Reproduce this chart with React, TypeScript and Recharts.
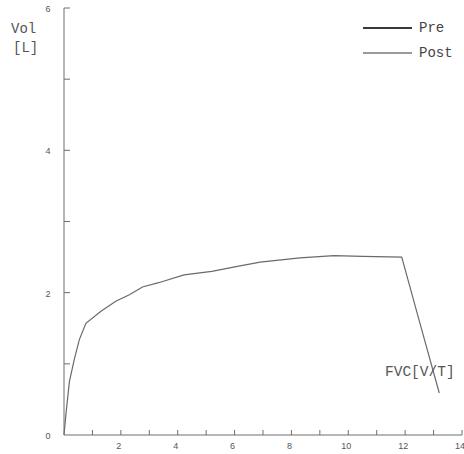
import { LineChart, Line, XAxis, YAxis } from 'recharts'

// FVC curve: volume [L] against FVC (x in L)
const fvcX = [0, 0.07, 0.19, 0.36, 0.54, 0.77, 1.3, 1.82, 2.3, 2.76, 3.33, 4.22, 5.2, 6.1, 6.9, 8.3, 9.5, 10.5, 11.88, 12.5, 13.2]
const preVol = [0, 0.3, 0.75, 1.06, 1.34, 1.57, 1.74, 1.88, 1.97, 2.08, 2.14, 2.25, 2.3, 2.37, 2.43, 2.49, 2.52, 2.51, 2.5, 1.6, 0.59]

const xTicks = [0, 1, 2, 3, 4, 5, 6, 7, 8, 9, 10, 11, 12, 13, 14]
const yTicks = [0, 1, 2, 3, 4, 5, 6]

const legendItems = [
  { name: 'Pre', color: '#3a3a3a' },
  { name: 'Post', color: '#9a9a9a' },
]

const data = fvcX.map((x, i) => ({ x, pre: preVol[i] }))

const FONT = '"Liberation Mono", "DejaVu Sans Mono", monospace'
const AXIS = '#6e6e6e'

function XTick(props: any) {
  const { x, y, payload } = props
  const v = payload.value
  return (
    <g>
      {v !== 0 && <line x1={x} y1={y} x2={x} y2={y - 5} stroke={AXIS} />}
      {v !== 0 && v % 2 === 0 && (
        <text x={x - 2} y={y + 14} textAnchor="middle" fontSize={9} fontFamily="'Liberation Sans', sans-serif" fill="#555">
          {v}
        </text>
      )}
    </g>
  )
}

function YTick(props: any) {
  const { x, y, payload } = props
  const v = payload.value
  return (
    <g>
      {v !== 0 && <line x1={x} y1={y} x2={x + 6} y2={y} stroke={AXIS} />}
      {v % 2 === 0 && (
        <text x={x - 16} y={y + 4} textAnchor="middle" fontSize={9} fontFamily="'Liberation Sans', sans-serif" fill="#555">
          {v}
        </text>
      )}
    </g>
  )
}

function LegendBox() {
  return (
    <div style={{ position: 'absolute', left: 363, top: 15, fontFamily: FONT, fontSize: 14, color: '#444' }}>
      {legendItems.map(item => (
        <div key={item.name} style={{ display: 'flex', alignItems: 'center', height: 25 }}>
          <svg width={50} height={6} style={{ marginRight: 6 }}>
            <line x1={0} y1={3} x2={49} y2={3} stroke={item.color} strokeWidth={2} />
          </svg>
          <span>{item.name}</span>
        </div>
      ))}
    </div>
  )
}

export default function App() {
  return (
    <div style={{ position: 'absolute', left: 0, top: 0, width: 464, height: 454, background: '#fff' }}>
      <div style={{ position: 'absolute', left: 11, top: 20, fontFamily: FONT, fontSize: 14, color: '#555', lineHeight: '19px', zIndex: 1 }}>
        Vol<br /><span style={{ marginLeft: 2 }}>[L]</span>
      </div>
      <div style={{ position: 'absolute', left: 385, top: 364, fontFamily: FONT, fontSize: 14.5, color: '#555', zIndex: 1 }}>
        FVC[V/T]
      </div>
      <LegendBox />
      <LineChart width={464} height={454} data={data} margin={{ top: 8, right: 2, bottom: 0, left: 0 }}>
        <XAxis
          dataKey="x"
          type="number"
          domain={[0, 14]}
          ticks={xTicks}
          interval={0}
          height={19}
          tickSize={0}
          tickMargin={0}
          tickLine={false}
          axisLine={{ stroke: AXIS }}
          tick={<XTick />}
        />
        <YAxis
          type="number"
          domain={[0, 6]}
          ticks={yTicks}
          interval={0}
          width={64}
          tickSize={0}
          tickMargin={0}
          tickLine={false}
          axisLine={{ stroke: AXIS }}
          tick={<YTick />}
        />
        <Line
          dataKey="pre"
          type="linear"
          stroke="#6a6a6a"
          strokeWidth={1.2}
          dot={false}
          isAnimationActive={false}
        />
      </LineChart>
    </div>
  )
}
